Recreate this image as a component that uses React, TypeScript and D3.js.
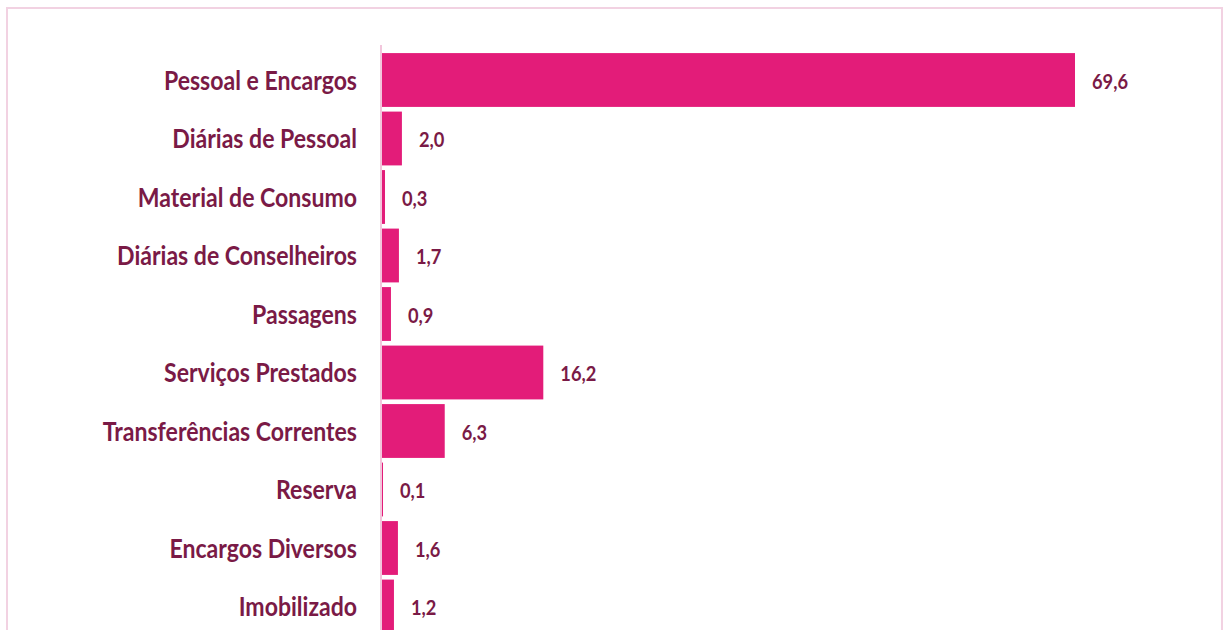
import React from "react";
import * as d3 from "d3";

const categories = [
  "Pessoal e Encargos",
  "Diárias de Pessoal",
  "Material de Consumo",
  "Diárias de Conselheiros",
  "Passagens",
  "Serviços Prestados",
  "Transferências Correntes",
  "Reserva",
  "Encargos Diversos",
  "Imobilizado",
];
const values = [69.6, 2.0, 0.3, 1.7, 0.9, 16.2, 6.3, 0.1, 1.6, 1.2];

const W = 1225;
const H = 630;
const FONT = "Lato, 'Open Sans', sans-serif";
const SX = 0.87;

export default function App() {
  const x = d3.scaleLinear().domain([0, 69.6]).range([382, 1075]);
  const y = d3
    .scaleBand<string>()
    .domain(categories)
    .range([50.75, 635.75])
    .paddingInner(0.08)
    .paddingOuter(0.04);
  const fmt = (v: number) => d3.format(".1f")(v).replace(".", ",");

  return (
    <div style={{ position: "fixed", left: 0, top: 0, width: W, height: H, overflow: "hidden", background: "#fff" }}>
      <svg width={W} height={H} style={{ display: "block" }}>
        <rect x={7} y={8} width={1215} height={700} fill="#fff" stroke="#f2d2e2" strokeWidth={2} />
        <line x1={381} x2={381} y1={45} y2={H} stroke="#f2c6dc" strokeWidth={2} />
        {categories.map((c, i) => {
          const yc = (y(c) as number) + y.bandwidth() / 2;
          return (
            <g key={c}>
              <rect
                x={x(0)}
                y={y(c)}
                width={Math.max(0, x(values[i]) - x(0))}
                height={y.bandwidth()}
                fill="#e31c79"
              />
              <text
                transform={`translate(357,${yc + 9.5}) scale(${SX},1)`}
                textAnchor="end"
                fontFamily={FONT}
                fontWeight={700}
                fontSize={26.5}
                fill="#7a1a46"
              >
                {c}
              </text>
              <text
                transform={`translate(${x(values[i]) + 17},${yc + 8.5}) scale(${SX},1)`}
                fontFamily={FONT}
                fontWeight={700}
                fontSize={21}
                fill="#7a1a46"
              >
                {fmt(values[i])}
              </text>
            </g>
          );
        })}
      </svg>
    </div>
  );
}
